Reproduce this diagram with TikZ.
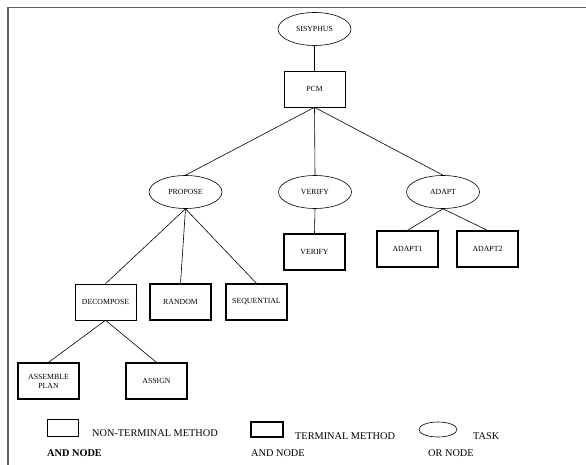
\documentclass[tikz,border=0pt]{standalone}
\usepackage{fontspec}
\setmainfont{Liberation Serif}
\usetikzlibrary{shapes.geometric}

\tikzset{
  task/.style={ellipse, draw, line width=0.6pt, minimum width=73pt, minimum height=33pt, inner sep=0pt, font=\fontsize{7.8}{9}\selectfont},
  nonterm/.style={rectangle, draw, line width=0.6pt, minimum width=61pt, minimum height=36pt, inner sep=0pt, font=\fontsize{7.8}{9}\selectfont, align=center},
  term/.style={nonterm, line width=1.2pt},
  legtext/.style={anchor=west, inner sep=0pt, font=\fontsize{10.3}{12}\selectfont},
  link/.style={line width=0.6pt}
}

\begin{document}
\begin{tikzpicture}[x=1pt, y=-1pt]

\useasboundingbox (0,0) rectangle (586,465);

% frame
\draw[gray!75!black, line width=1.6pt] (8,465) -- (8,7.5) -- (586,7.5);

% tree
\node[task] (sisyphus) at (314.5,29) {SISYPHUS};
\node[nonterm] (pcm) at (314.5,89) {PCM};

\node[task] (propose) at (185.5,192) {PROPOSE};
\node[task] (verify) at (315,192) {VERIFY};
\node[task] (adapt) at (443,192) {ADAPT};

\node[term] (verifym) at (314.5,252) {VERIFY};
\node[term] (adapt1) at (407.5,249) {ADAPT1};
\node[term] (adapt2) at (487.5,249) {ADAPT2};

\node[nonterm] (decompose) at (105.5,302) {DECOMPOSE};
\node[term] (random) at (180.5,302) {RANDOM};
\node[term] (sequential) at (256.5,302) {SEQUENTIAL};

\node[term] (assemble) at (48.5,381) {ASSEMBLE\\PLAN};
\node[term] (assign) at (156.5,381) {ASSIGN};

\draw[link] (sisyphus) -- (pcm);
\draw[link] (pcm.south) -- (propose.north);
\draw[link] (pcm.south) -- (verify.north);
\draw[link] (pcm.south) -- (adapt.north);

\draw[link] (verify.south) -- (verifym.north);
\draw[link] (adapt.south) -- (adapt1.north);
\draw[link] (adapt.south) -- (adapt2.north);

\draw[link] (propose.south) -- (decompose.north);
\draw[link] (propose.south) -- (random.north);
\draw[link] (propose.south) -- (sequential.north);

\draw[link] (decompose.south) -- (assemble.north);
\draw[link] (decompose.south) -- (assign.north);

% legend
\node[nonterm, minimum width=31pt, minimum height=17pt] (legnt) at (62.5,427.5) {};
\node[term, minimum width=32pt, minimum height=15pt] (legt) at (267,429.5) {};
\node[task, minimum width=38pt, minimum height=15pt] (legtask) at (438,429.5) {};

\node[legtext] (ntlabel) at (92,433) {NON-TERMINAL METHOD};
\node[legtext, font=\fontsize{10.3}{12}\selectfont\bfseries] (ntand) at (47,453) {AND NODE};
\node[legtext] (tlabel) at (295,436) {TERMINAL METHOD};
\node[legtext] (tand) at (251,453) {AND NODE};
\node[legtext] (tasklabel) at (473,436) {TASK};
\node[legtext] (taskor) at (428,453) {OR NODE};

\end{tikzpicture}
\end{document}
